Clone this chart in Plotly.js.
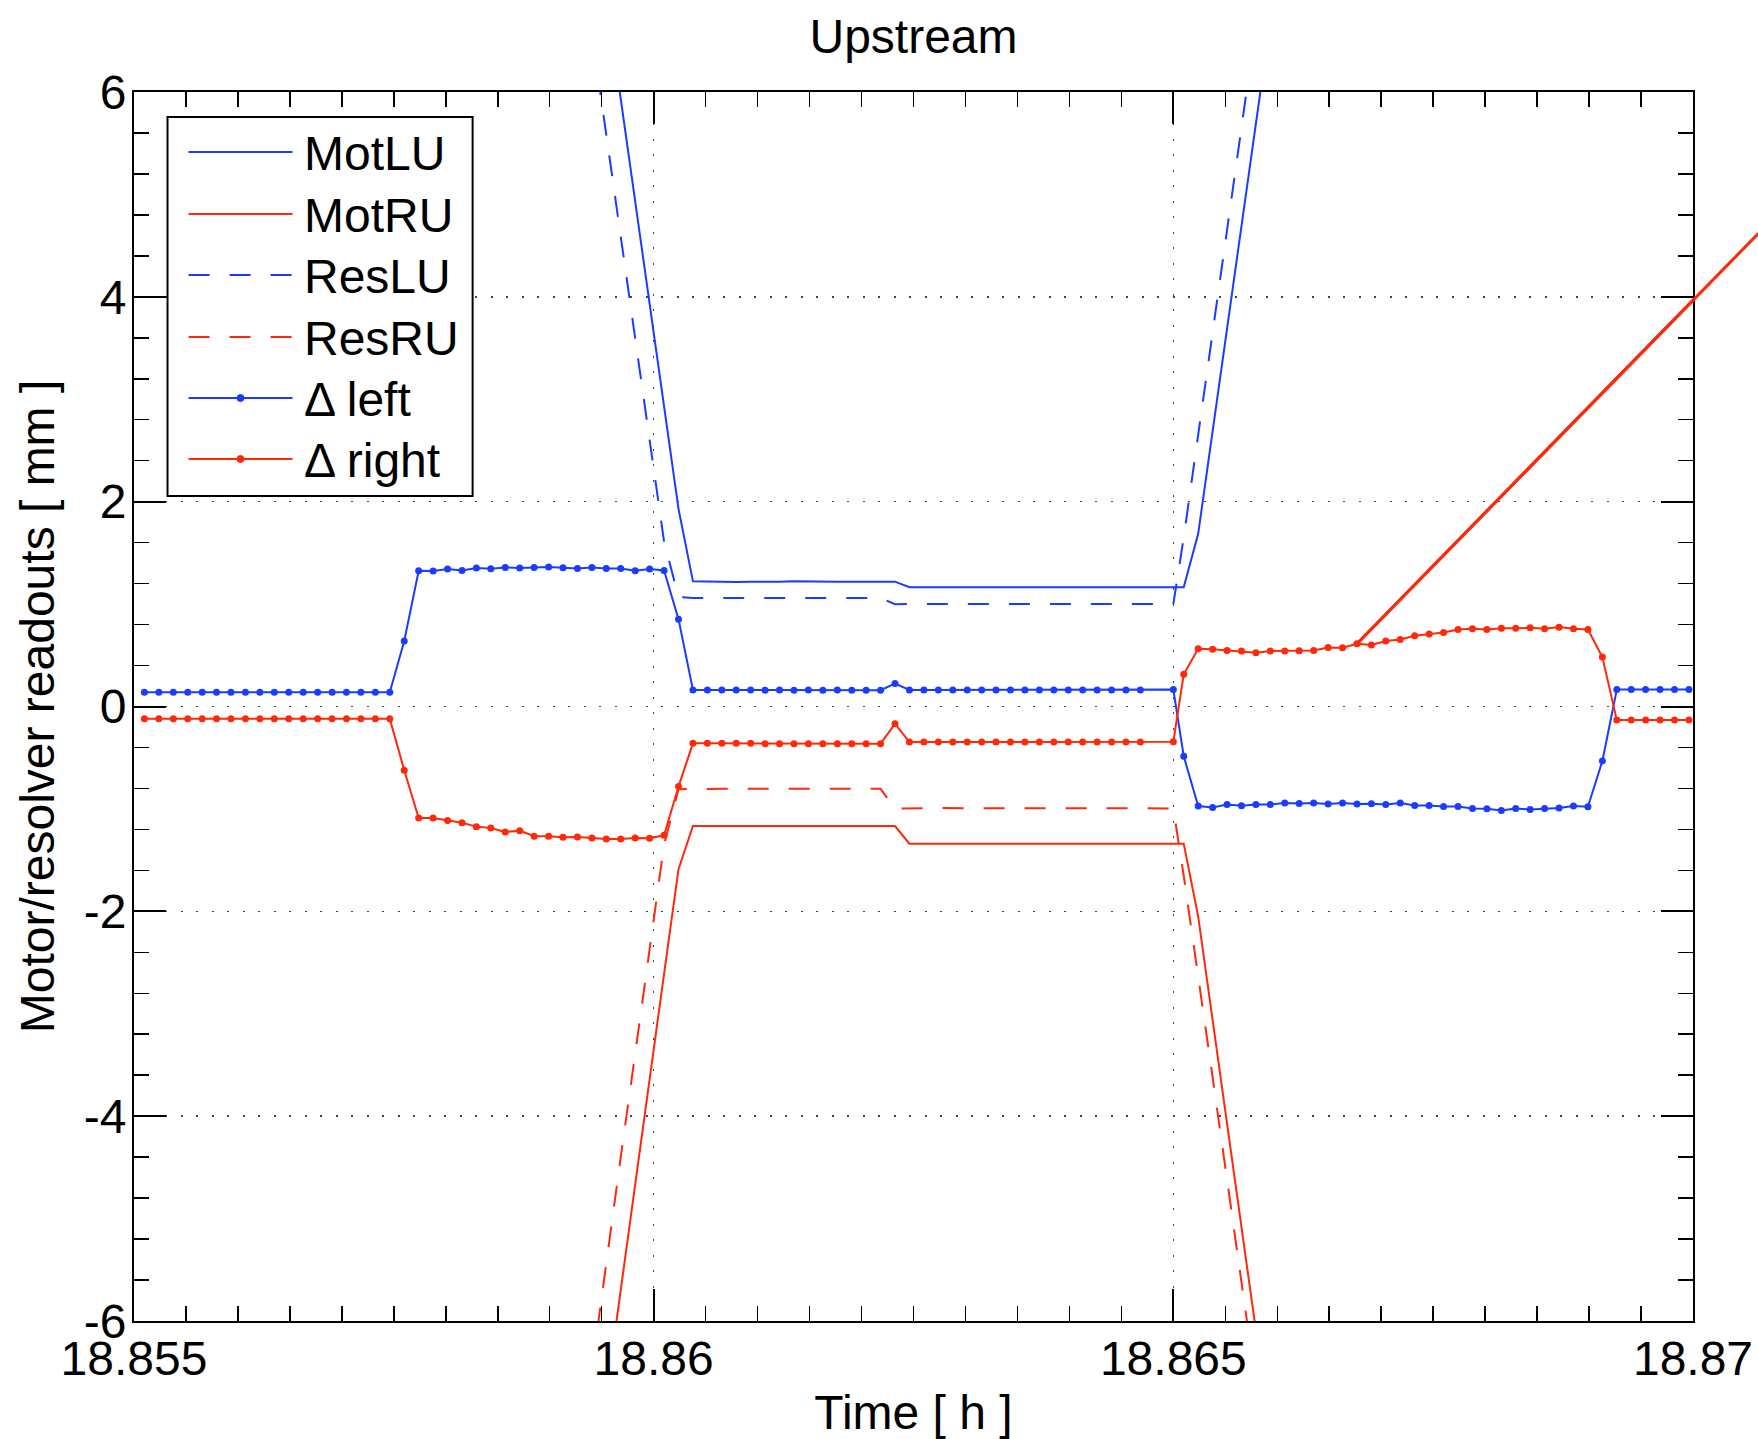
<!DOCTYPE html>
<html><head><meta charset="utf-8">
<script src="https://cdn.plot.ly/plotly-3.0.1.min.js"></script>
<style>html,body{margin:0;padding:0;background:#fff}</style>
</head><body>
<div id="chart" style="width:1758px;height:1439px"></div>
<script>
// ---------------- data ----------------
const time = [
18.855100,18.855239,18.855378,18.855517,18.855656,18.855794,18.855933,18.856072,18.856211,18.856350,
18.856489,18.856628,18.856767,18.856906,18.857044,18.857183,18.857322,18.857461,18.857600,18.857739,
18.857878,18.858017,18.858156,18.858294,18.858433,18.858572,18.858711,18.858850,18.858989,18.859128,
18.859267,18.859406,18.859544,18.859683,18.859822,18.859961,18.860100,18.860239,18.860378,18.860517,
18.860656,18.860794,18.860933,18.861072,18.861211,18.861350,18.861489,18.861628,18.861767,18.861906,
18.862044,18.862183,18.862322,18.862461,18.862600,18.862739,18.862878,18.863017,18.863156,18.863294,
18.863433,18.863572,18.863711,18.863850,18.863989,18.864128,18.864267,18.864406,18.864544,18.864683,
18.865000,
18.865100,18.865239,18.865378,18.865517,18.865656,18.865794,18.865933,18.866072,18.866211,18.866350,
18.866489,18.866628,18.866767,18.866906,18.867044,18.867183,18.867322,18.867461,18.867600,18.867739,
18.867878,18.868017,18.868156,18.868294,18.868433,18.868572,18.868711,18.868850,18.868989,18.869128,
18.869267,18.869406,18.869544,18.869683,18.869822,18.869961];

const deltaLeft = [
0.14,0.14,0.14,0.14,0.14,0.14,0.14,0.14,0.14,0.14,
0.14,0.14,0.14,0.14,0.14,0.14,0.14,0.14,0.64,
1.326,1.323,1.342,1.329,1.352,1.345,1.358,1.352,1.358,1.361,1.355,1.348,1.358,1.348,1.348,1.326,1.342,1.329,
0.853,
0.162,0.162,0.162,0.162,0.162,0.159,0.162,0.159,0.162,0.159,0.162,0.159,0.159,0.159,
0.224,
0.162,0.162,0.162,0.162,0.162,0.162,0.162,0.162,0.162,0.162,0.162,0.162,0.162,0.162,0.162,0.162,0.162,
0.165,
-0.486,
-0.972,-0.985,-0.956,-0.969,-0.956,-0.956,-0.943,-0.947,-0.943,-0.953,
-0.943,-0.953,-0.950,-0.956,-0.943,-0.966,-0.966,-0.976,-0.976,-0.995,
-0.998,-1.015,-0.995,-1.005,-0.995,-0.992,-0.972,-0.979,
-0.532,
0.165,0.165,0.165,0.165,0.165,0.165];

const deltaRight = [
-0.12,-0.12,-0.12,-0.12,-0.12,-0.12,-0.12,-0.12,-0.12,-0.12,
-0.12,-0.12,-0.12,-0.12,-0.12,-0.12,-0.12,-0.12,-0.622,
-1.089,-1.089,-1.112,-1.135,-1.173,-1.186,-1.225,-1.212,-1.267,-1.267,-1.277,-1.274,-1.284,-1.293,-1.293,-1.284,-1.287,-1.258,
-0.781,
-0.360,-0.360,-0.360,-0.360,-0.360,-0.363,-0.363,-0.363,-0.363,-0.363,-0.363,-0.363,-0.363,-0.363,
-0.169,
-0.347,-0.347,-0.347,-0.347,-0.347,-0.347,-0.347,-0.347,-0.347,-0.347,-0.347,-0.347,-0.347,-0.347,-0.347,-0.347,-0.347,
-0.344,
0.314,
0.564,0.558,0.548,0.541,0.525,0.541,0.541,0.545,0.548,0.577,
0.574,0.613,0.600,0.639,0.655,0.690,0.707,0.723,0.752,0.759,
0.752,0.765,0.765,0.768,0.759,0.775,0.759,0.752,
0.483,
-0.133,-0.133,-0.133,-0.133,-0.133,-0.133];

// motor / resolver readouts: visible stretch starts at sample index motStart
const motStart = 31;
const motLU = [7.93,6.93,5.93,4.93,3.94,2.94,1.93,
1.222,1.219,1.219,1.216,1.219,1.216,1.219,1.222,1.219,1.216,1.219,1.219,1.219,1.219,1.219,
1.164,1.164,1.164,1.164,1.164,1.164,1.164,1.164,1.164,1.164,1.164,1.164,1.164,1.164,1.164,1.164,1.164,
1.164,1.164,
1.686,2.69,3.69,4.69,5.69,6.69];
const resLU = [6.57,5.58,4.58,3.60,2.60,1.61,1.07,
1.060,1.060,1.060,1.060,1.060,1.060,1.060,1.060,1.060,1.060,1.060,1.060,1.060,1.060,
0.998,
1.002,1.002,1.002,1.002,1.002,1.002,1.002,1.002,1.002,1.002,1.002,1.002,1.002,1.002,1.002,1.002,1.002,
1.0,1.65,
2.66,3.67,4.65,5.66,6.65];
const motRU = [-7.75,-6.72,-5.69,-4.67,-3.64,-2.61,-1.588,
-1.167,-1.167,-1.167,-1.167,-1.167,-1.167,-1.167,-1.167,-1.167,-1.167,-1.167,-1.167,-1.167,-1.167,-1.167,
-1.339,-1.339,-1.339,-1.339,-1.339,-1.339,-1.339,-1.339,-1.339,-1.339,-1.339,-1.339,-1.339,-1.339,-1.339,-1.339,-1.339,
-1.339,-1.339,
-2.05,-3.06,-4.07,-5.08,-6.10,-7.10];
const resRU = [-6.47,-5.43,-4.40,-3.39,-2.35,-1.35,-0.807,
-0.804,-0.804,-0.804,-0.804,-0.804,-0.804,-0.804,-0.804,-0.804,-0.804,-0.804,-0.804,-0.804,-0.804,
-0.998,
-0.992,-0.992,-0.992,-0.992,-0.992,-0.992,-0.992,-0.992,-0.992,-0.992,-0.992,-0.992,-0.992,-0.992,-0.992,-0.992,-0.992,
-0.995,-1.653,
-2.62,-3.62,-4.62,-5.62,-6.62];

// stray straight red segment
const strayT = [18.866767, 18.87063];
const strayY = [0.613, 4.62];

const xTickVals = [18.855, 18.86, 18.865, 18.87];
const xTickText = ['18.855', '18.86', '18.865', '18.87'];
const yTickVals = [-6, -4, -2, 0, 2, 4, 6];
const yTickText = ['-6', '-4', '-2', '0', '2', '4', '6'];
const seriesNames = ['MotLU', 'MotRU', 'ResLU', 'ResRU', '\u0394 left', '\u0394 right'];

// ---------------- styling ----------------
const BLUE = 'rgb(25,60,255)';
const RED = 'rgb(255,40,10)';
const DASH = '21px,20px';
const FONT = 'Liberation Sans, Arial, Helvetica, sans-serif';

function seg(arr) { return time.slice(motStart, motStart + arr.length); }

const styles = [
  {color: BLUE, dash: 'solid', marker: false},
  {color: RED, dash: 'solid', marker: false},
  {color: BLUE, dash: DASH, marker: false},
  {color: RED, dash: DASH, marker: false},
  {color: BLUE, dash: 'solid', marker: true},
  {color: RED, dash: 'solid', marker: true}
];
const xs = [seg(motLU), seg(motRU), seg(resLU), seg(resRU), time, time];
const ys = [motLU, motRU, resLU, resRU, deltaLeft, deltaRight];

const traces = seriesNames.map((name, i) => ({
  type: 'scatter',
  name: name,
  x: xs[i], y: ys[i],
  mode: styles[i].marker ? 'lines+markers' : 'lines',
  line: {color: styles[i].color, width: 2, dash: styles[i].dash},
  marker: {color: styles[i].color, size: 7},
  showlegend: false,
  hoverinfo: 'skip'
}));
traces.push({
  type: 'scatter', name: 'stray', x: strayT, y: strayY, mode: 'lines',
  line: {color: RED, width: 3}, showlegend: false, hoverinfo: 'skip'
});

// ---------------- custom legend (paper coords) ----------------
const shapes = [{
  type: 'rect', xref: 'paper', yref: 'paper', layer: 'above',
  x0: 0.0215, x1: 0.2172, y0: 0.6713, y1: 0.9797,
  line: {color: '#000', width: 2}, fillcolor: '#fff'
}];
const annotations = [];
const rowY = [0.9512, 0.9007, 0.8511, 0.8007, 0.7510, 0.7014];
seriesNames.forEach((name, i) => {
  shapes.push({
    type: 'line', xref: 'paper', yref: 'paper', layer: 'above',
    x0: 0.035, x1: 0.1017, y0: rowY[i], y1: rowY[i],
    line: {color: styles[i].color, width: 2, dash: styles[i].dash}
  });
  if (styles[i].marker) {
    shapes.push({
      type: 'circle', xref: 'paper', yref: 'paper', layer: 'above',
      x0: 0.0683 - 0.00225, x1: 0.0683 + 0.00225,
      y0: rowY[i] - 0.00285, y1: rowY[i] + 0.00285,
      line: {color: styles[i].color, width: 1}, fillcolor: styles[i].color
    });
  }
  annotations.push({
    xref: 'paper', yref: 'paper', x: 0.1075, y: rowY[i] - 0.0015,
    xanchor: 'left', yanchor: 'middle', showarrow: false,
    text: name, font: {family: FONT, size: 48, color: '#000'}
  });
});
// continuation of the stray segment beyond the frame (unclipped)
annotations.push({
  xref: 'x', yref: 'y', axref: 'x', ayref: 'y',
  x: strayT[1], y: strayY[1], ax: strayT[0], ay: strayY[0],
  text: '', showarrow: true, arrowhead: 0, arrowwidth: 3, arrowcolor: RED,
  standoff: 0, startstandoff: 0
});

const axisCommon = {
  ticks: 'inside', ticklen: 32, tickwidth: 2, tickcolor: '#000',
  showline: true, linecolor: '#000', linewidth: 2, mirror: 'allticks',
  showgrid: true, gridcolor: '#444', gridwidth: 1.5, griddash: '2px,13.5px',
  zeroline: false, tickfont: {family: FONT, size: 48, color: '#000'},
  tickmode: 'array'
};

const layout = {
  width: 1758, height: 1439,
  margin: {l: 134, r: 65, t: 92, b: 118, pad: 0},
  paper_bgcolor: '#fff', plot_bgcolor: '#fff',
  font: {family: FONT, size: 48, color: '#000'},
  showlegend: false,
  title: {text: 'Upstream', font: {family: FONT, size: 48, color: '#000'},
          x: 0.5, xref: 'paper', xanchor: 'center', y: 0.9745, yref: 'container', yanchor: 'middle'},
  xaxis: Object.assign({}, axisCommon, {
    range: [18.855, 18.87], tickvals: xTickVals, ticktext: xTickText,
    ticklabelstandoff: -6,
    minor: {tick0: 18.855, dtick: 0.0005, ticks: 'inside', ticklen: 15, tickwidth: 1.5, tickcolor: '#000', showgrid: false},
    title: {text: 'Time [ h ]', font: {family: FONT, size: 48, color: '#000'}, standoff: 24}
  }),
  yaxis: Object.assign({}, axisCommon, {
    range: [-6, 6], tickvals: yTickVals, ticktext: yTickText,
    ticklabelstandoff: -4,
    minor: {tick0: 0, dtick: 0.4, ticks: 'inside', ticklen: 15, tickwidth: 1.5, tickcolor: '#000', showgrid: false},
    title: {text: 'Motor/resolver readouts [ mm ]', font: {family: FONT, size: 48, color: '#000'}, standoff: 14}
  }),
  shapes: shapes,
  annotations: annotations
};

Plotly.newPlot('chart', traces, layout, {displayModeBar: false, staticPlot: true});
</script>
</body></html>
